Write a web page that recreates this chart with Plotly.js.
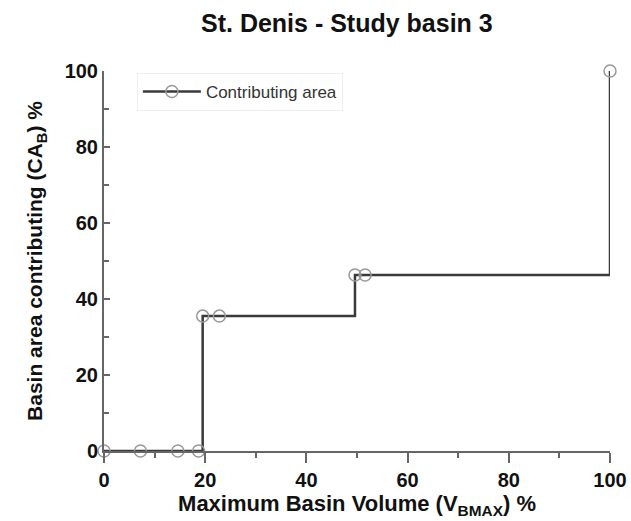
<!DOCTYPE html>
<html>
<head>
<meta charset="utf-8">
<script src="https://cdn.plot.ly/plotly-3.0.1.min.js"></script>
<style>html,body{margin:0;padding:0;background:#fff;}#chart{width:631px;height:521px;}</style>
</head>
<body>
<div id="chart"></div>
<script>
const volumePct = [0, 7.2, 14.6, 18.7, 19.5, 22.8, 49.6, 51.6, 100];
const areaPct = [0, 0, 0, 0, 35.5, 35.5, 46.3, 46.3, 100];
const seriesName = "Contributing area";
const xTicks = [0, 20, 40, 60, 80, 100];
const yTicks = [0, 20, 40, 60, 80, 100];

const FONT = "Liberation Sans, Arial, sans-serif";
const trace = {
  x: volumePct, y: areaPct, name: seriesName,
  type: "scatter", mode: "lines+markers",
  line: {shape: "hv", color: "#3a3a3a", width: 2.5},
  marker: {symbol: "circle-open", size: 12, color: "#999", line: {width: 1.5, color: "#999"}},
  cliponaxis: false
};
const layout = {
  width: 631, height: 521,
  paper_bgcolor: "#fff", plot_bgcolor: "#fff",
  margin: {l: 104, r: 21, t: 71, b: 70},
  showlegend: true,
  title: {text: "St. Denis - Study basin 3", font: {family: FONT, size: 25, weight: "bold", color: "#111"},
          x: 0.48, xref: "paper", xanchor: "center", y: 0.955, yref: "container", yanchor: "middle"},
  legend: {x: 0.065, y: 0.995, xanchor: "left", yanchor: "top", bgcolor: "#fff", itemwidth: 58,
           bordercolor: "#eee", borderwidth: 1, font: {family: FONT, size: 17, color: "#333"}},
  xaxis: {
    range: [0, 100], tickvals: xTicks, ticktext: xTicks.map(String),
    showgrid: false, zeroline: false, showline: true, linecolor: "#666", linewidth: 2,
    ticks: "outside", ticklen: 10, tickwidth: 2, tickcolor: "#666",
    minor: {dtick: 10, ticks: "outside", ticklen: 5, tickwidth: 2, tickcolor: "#666"},
    tickfont: {family: FONT, size: 20, weight: "bold", color: "#111"},
    title: {text: "Maximum Basin Volume (V<sub>BMAX</sub>) %", font: {family: FONT, size: 22, weight: "bold", color: "#111"}, standoff: 0}
  },
  yaxis: {
    range: [0, 100], tickvals: yTicks, ticktext: yTicks.map(String),
    showgrid: false, zeroline: false, showline: true, linecolor: "#666", linewidth: 2,
    ticks: "inside", ticklen: 6, tickwidth: 2, tickcolor: "#666",
    minor: {dtick: 10, ticks: "inside", ticklen: 5, tickwidth: 2, tickcolor: "#666"},
    tickfont: {family: FONT, size: 20, weight: "bold", color: "#111"},
    title: {text: "Basin area contributing (CA<sub>B</sub>) %", font: {family: FONT, size: 21, weight: "bold", color: "#111"}, standoff: 16}
  }
};
Plotly.newPlot("chart", [trace], layout, {displayModeBar: false, staticPlot: true});
</script>
</body>
</html>
